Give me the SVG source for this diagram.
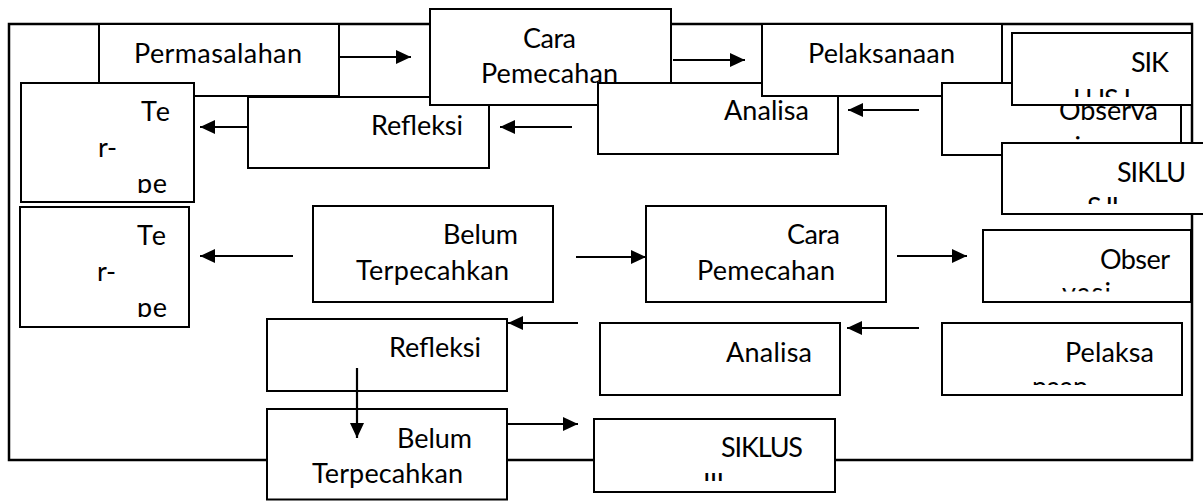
<svg xmlns="http://www.w3.org/2000/svg" width="1203" height="501" viewBox="0 0 1203 501">
<style>
.box{fill:#fff;stroke:#000;stroke-width:2}
.frame{fill:none;stroke:#000;stroke-width:2.5}
text{font-family:Lato,"Liberation Sans",sans-serif;font-size:27px;fill:#000}
.arr{stroke:#000;stroke-width:2.2;fill:none;marker-end:url(#ah)}
</style>
<defs>
<marker id="ah" markerUnits="userSpaceOnUse" markerWidth="16" markerHeight="15" refX="15" refY="7" orient="auto">
<path d="M0,0 L15,7 L0,14 z" fill="#000"/>
</marker>
<clipPath id="cTe1"><rect x="21" y="83" width="173" height="110"/></clipPath>
<clipPath id="cTe2"><rect x="20" y="207" width="169" height="110"/></clipPath>
<clipPath id="cSIK"><rect x="1012" y="33" width="180" height="64"/></clipPath>
<clipPath id="cSIKLU"><rect x="1002" y="143" width="201" height="61"/></clipPath>
<clipPath id="cObser"><rect x="983" y="230" width="208" height="61.5"/></clipPath>
<clipPath id="cPelaksa"><rect x="942" y="323" width="240" height="62"/></clipPath>
<clipPath id="cSiklus"><rect x="594" y="419" width="241" height="62"/></clipPath>
</defs>
<rect width="1203" height="501" fill="#fff"/>
<g id="frame"><rect class="frame" x="9" y="24" width="1183" height="436"/></g>
<g id="permasalahan"><rect class="box" x="99" y="24" width="240" height="72"/><text x="134" y="63" textLength="168">Permasalahan</text></g>
<g id="te1"><rect class="box" x="21" y="83" width="173" height="119"/><g clip-path="url(#cTe1)"><text x="141" y="121" textLength="29">Te</text><text x="98" y="157" textLength="19">r-</text><text x="137" y="193" textLength="30">pe</text></g></g>
<g id="refleksi1"><rect class="box" x="248" y="97" width="241" height="71"/><text x="371" y="135" textLength="92">Refleksi</text></g>
<g id="cara1"><rect class="box" x="430" y="9" width="241" height="96"/><text x="523" y="48" textLength="53">Cara</text><text x="481" y="83" textLength="137">Pemecahan</text></g>
<g id="analisa1"><rect class="box" x="598" y="83" width="240" height="71"/><text x="724" y="120" textLength="85">Analisa</text></g>
<g id="pelaksanaan"><rect class="box" x="762" y="24" width="240" height="72"/><text x="808" y="63" textLength="147">Pelaksanaan</text></g>
<g id="observasi1"><rect class="box" x="942" y="83" width="239" height="72"/><text x="1059" y="120" textLength="99">Observa</text><text x="1059" y="156" textLength="22">si</text></g>
<g id="siklus1"><rect class="box" x="1012" y="33" width="180" height="72"/><g clip-path="url(#cSIK)"><text x="1131" y="72" textLength="38">SIK</text><text x="1073" y="109" textLength="58">LUS I</text></g></g>
<g id="siklus2"><rect class="box" x="1002" y="143" width="205" height="71"/><g clip-path="url(#cSIKLU)"><text x="1117" y="182" textLength="69">SIKLU</text><text x="1087" y="217" textLength="32">S II</text></g></g>
<g id="te2"><rect class="box" x="20" y="207" width="169" height="120"/><g clip-path="url(#cTe2)"><text x="137" y="245" textLength="29">Te</text><text x="97" y="281" textLength="19">r-</text><text x="137" y="317" textLength="30">pe</text></g></g>
<g id="belum1"><rect class="box" x="313" y="206" width="240" height="96"/><text x="443" y="244" textLength="75">Belum</text><text x="356" y="280" textLength="153">Terpecahkan</text></g>
<g id="cara2"><rect class="box" x="646" y="206" width="240" height="96"/><text x="787" y="244" textLength="53">Cara</text><text x="697" y="280" textLength="138">Pemecahan</text></g>
<g id="observasi2"><rect class="box" x="983" y="230" width="208" height="72"/><g clip-path="url(#cObser)"><text x="1100" y="269" textLength="70">Obser</text><text x="1062" y="302" textLength="49">vasi</text></g></g>
<g id="refleksi2"><rect class="box" x="267" y="319" width="240" height="72"/><text x="389" y="357" textLength="92">Refleksi</text></g>
<g id="analisa2"><rect class="box" x="600" y="323" width="240" height="72"/><text x="726" y="362" textLength="86">Analisa</text></g>
<g id="pelaksanaan2"><rect class="box" x="942" y="323" width="240" height="72"/><g clip-path="url(#cPelaksa)"><text x="1065" y="362" textLength="89">Pelaksa</text><text x="1032" y="396" textLength="56">naan</text></g></g>
<g id="belum2"><rect class="box" x="267" y="409" width="240" height="90.5"/><text x="397" y="448" textLength="75">Belum</text><text x="312" y="483" textLength="151">Terpecahkan</text></g>
<g id="siklus3"><rect class="box" x="594" y="419" width="241" height="73"/><g clip-path="url(#cSiklus)"><text x="721" y="457" textLength="82">SIKLUS</text><text x="703" y="493" textLength="21">III</text></g></g>
<g id="connectors">
<path class="arr" d="M339,57 H411"/>
<path class="arr" d="M673,60 H745"/>
<path class="arr" d="M248,127 H200"/>
<path class="arr" d="M572,127 H500"/>
<path class="arr" d="M919,110 H848"/>
<path class="arr" d="M293,256 H200"/>
<path class="arr" d="M576,257 H646"/>
<path class="arr" d="M897,256 H967"/>
<path class="arr" d="M578,323 H508"/>
<path class="arr" d="M919,328 H847"/>
<path class="arr" d="M357,368 V438"/>
<path class="arr" d="M507,424 H578"/>
</g>
</svg>
